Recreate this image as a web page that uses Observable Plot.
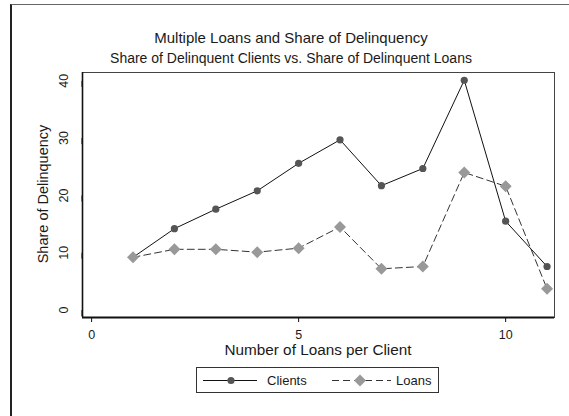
<!DOCTYPE html>
<html>
<head>
<meta charset="utf-8">
<script src="https://cdn.jsdelivr.net/npm/d3@7"></script>
<script src="https://cdn.jsdelivr.net/npm/@observablehq/plot@0.6"></script>
<style>
  html, body { margin: 0; padding: 0; background: #fff; }
  #wrap { position: relative; width: 569px; height: 416px; overflow: hidden; font-family: "Liberation Sans", Arial, sans-serif; color: #1a1a1a; }
  #border { position: absolute; left: 10px; top: 4px; width: 580px; height: 430px; border-left: 2px solid #222; border-top: 1px solid #666; }
  #chart { position: absolute; left: 0; top: 0; }
  .t { position: absolute; white-space: nowrap; }
  #title { left: 0; width: 582px; text-align: center; top: 29px; font-size: 15px; }
  #subtitle { left: 0; width: 582px; text-align: center; top: 50px; font-size: 14px; }
  #xtitle { left: 0; width: 636px; text-align: center; top: 341px; font-size: 15.3px; }
  #ytitle { left: 43px; top: 194px; font-size: 14.5px; transform: translate(-50%, -50%) rotate(-90deg); }
  #legend { position: absolute; left: 196px; top: 367px; width: 241px; height: 24px; border: 1px solid #333; font-size: 13px; }
</style>
</head>
<body>
<div id="wrap">
  <div id="border"></div>
  <div id="chart"></div>
  <div class="t" id="title">Multiple Loans and Share of Delinquency</div>
  <div class="t" id="subtitle">Share of Delinquent Clients vs. Share of Delinquent Loans</div>
  <div class="t" id="xtitle">Number of Loans per Client</div>
  <div class="t" id="ytitle">Share of Delinquency</div>
  <div id="legend"></div>
</div>
<script>
// Data
const loansPerClient = [1, 2, 3, 4, 5, 6, 7, 8, 9, 10, 11];
const clientsShare   = [9.2, 14.2, 17.6, 20.8, 25.6, 29.7, 21.7, 24.7, 40.1, 15.5, 7.6];
const loansShare     = [9.2, 10.6, 10.6, 10.1, 10.8, 14.5, 7.2, 7.6, 24.0, 21.6, 3.7];
const xTicks = [0, 5, 10];
const yTicks = [0, 10, 20, 30, 40];
const seriesNames = ["Clients", "Loans"];

const clientsData = loansPerClient.map((x, i) => ({x, y: clientsShare[i]}));
const loansData = loansPerClient.map((x, i) => ({x, y: loansShare[i]}));

const xDomain = [-0.22, 11.18];
const yDomain = [-1.3, 41.45];

const plot = Plot.plot({
  width: 569,
  height: 416,
  marginLeft: 82,
  marginRight: 15,
  marginTop: 72,
  marginBottom: 99,
  style: {fontFamily: "'Liberation Sans', Arial, sans-serif", fontSize: "12px", color: "#1a1a1a", background: "transparent"},
  x: {domain: xDomain},
  y: {domain: yDomain},
  marks: [
    Plot.frame({stroke: "#444", strokeWidth: 1}),
    Plot.ruleY([yDomain[0]], {stroke: "#111", strokeWidth: 2.2}),
    Plot.ruleX([xDomain[0]], {stroke: "#111", strokeWidth: 1.6}),
    Plot.axisX({ticks: xTicks, tickSize: 5, tickPadding: 8, label: null, fontSize: 12.5, stroke: "#111"}),
    Plot.axisY({ticks: yTicks, tickSize: 6, tickPadding: 13, rotate: -90, textAnchor: "middle", label: null, fontSize: 12.5, stroke: "#111"}),
    Plot.line(clientsData, {x: "x", y: "y", stroke: "#111", strokeWidth: 1}),
    Plot.dot(clientsData, {x: "x", y: "y", r: 3.6, fill: "#555", stroke: "none"}),
    Plot.line(loansData, {x: "x", y: "y", stroke: "#333", strokeWidth: 1, strokeDasharray: "7,4"}),
    Plot.dot(loansData, {x: "x", y: "y", r: 5.4, symbol: "diamond2", fill: "#999", stroke: "none"})
  ]
});
document.getElementById("chart").appendChild(plot);

// Legend
const legend = document.getElementById("legend");
legend.innerHTML = `
<svg width="241" height="24" style="position:absolute;left:0;top:0">
  <line x1="6" x2="60" y1="12.5" y2="12.5" stroke="#111" stroke-width="1"/>
  <circle cx="34" cy="12.5" r="3.6" fill="#555"/>
  <text x="70" y="17" font-size="13" fill="#1a1a1a" font-family="Liberation Sans, Arial, sans-serif">${seriesNames[0]}</text>
  <line x1="135" x2="194" y1="12.5" y2="12.5" stroke="#333" stroke-width="1" stroke-dasharray="7,4"/>
  <path d="M163 6.5 L169 12.5 L163 18.5 L157 12.5 Z" fill="#999"/>
  <text x="199" y="17" font-size="13" fill="#1a1a1a" font-family="Liberation Sans, Arial, sans-serif">${seriesNames[1]}</text>
</svg>`;
</script>
</body>
</html>
